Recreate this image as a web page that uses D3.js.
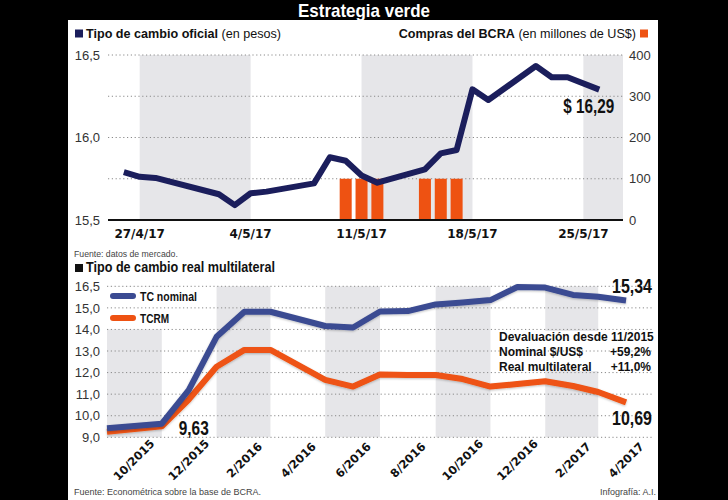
<!DOCTYPE html>
<html><head><meta charset="utf-8">
<script src="https://cdn.jsdelivr.net/npm/d3@7"></script>
<style>body{margin:0;background:#000}svg{display:block}</style>
</head><body><svg id="c" width="728" height="500"></svg>
<script>
// ---------- DATA ----------
const fechasOficial = ["2017-04-26","2017-04-27","2017-04-28","2017-05-02","2017-05-03","2017-05-04","2017-05-05","2017-05-08","2017-05-09","2017-05-10","2017-05-11","2017-05-12","2017-05-15","2017-05-16","2017-05-17","2017-05-18","2017-05-19","2017-05-22","2017-05-23","2017-05-24","2017-05-26"];
const tipoCambioOficial = [15.79,15.762,15.755,15.656,15.59,15.662,15.672,15.722,15.88,15.859,15.77,15.726,15.807,15.904,15.924,16.292,16.227,16.433,16.365,16.365,16.29];
const fechasCompras = ["2017-05-10","2017-05-11","2017-05-12","2017-05-15","2017-05-16","2017-05-17"];
const comprasBCRA = [100,100,100,100,100,100];
const semanasTicks = ["2017-04-27","2017-05-04","2017-05-11","2017-05-18","2017-05-25"];
const semanasLabels = ["27/4/17","4/5/17","11/5/17","18/5/17","25/5/17"];
const ejeIzqTicks = [15.5,16,16.5];
const ejeDerTicks = [0,100,200,300,400];
const ultimoOficialLabel = "$ 16,29";

const meses = ["2015-09","2015-11","2015-12","2016-01","2016-02","2016-03","2016-05","2016-06","2016-07","2016-08","2016-09","2016-10","2016-11","2016-12","2017-01","2017-02","2017-03","2017-04"];
const tcNominal = [9.42,9.63,11.19,13.66,14.82,14.82,14.16,14.09,14.83,14.85,15.16,15.25,15.36,15.97,15.94,15.6,15.52,15.34];
const tcrm = [9.26,9.51,10.75,12.27,13.05,13.05,11.66,11.35,11.91,11.89,11.89,11.7,11.35,11.47,11.6,11.38,11.1,10.62];
const mesesTicks = ["2015-10","2015-12","2016-02","2016-04","2016-06","2016-08","2016-10","2016-12","2017-02","2017-04"];
const mesesLabels = ["10/2015","12/2015","2/2016","4/2016","6/2016","8/2016","10/2016","12/2016","2/2017","4/2017"];
const ejeRealTicks = [9,10,11,12,13,14,15,16];
const ejeRealLabels = ["9,0","10,0","11,0","12,0","13,0","14,0","15,0","16,5"];
const seriesNombres = ["TC nominal","TCRM"];
const valorLabels = ["9,63","15,34","10,69"];
const devaluacionTitulo = "Devaluación desde 11/2015";
const devaluacionFilas = ["Nominal $/US$","Real multilateral"];
const devaluacionValores = ["+59,2%","+11,0%"];

// ---------- STYLE ----------
const NAVY = "#1b1e5c", BLUE = "#3b4b92", ORANGE = "#ee5212", BAND = "#e6e6e9", GRID = "#8a8a8a";
const FONT = "'Liberation Sans', Arial, sans-serif";
const NARROW = "'Liberation Sans Narrow', 'Liberation Sans', Arial, sans-serif";
const WIDE = "'DejaVu Sans', sans-serif";

const svg = d3.select("#c");
svg.append("rect").attr("width",728).attr("height",500).attr("fill","#000");
svg.append("rect").attr("x",68).attr("y",20).attr("width",590).attr("height",480).attr("fill","#fff");

const defs = svg.append("defs");
const f = defs.append("filter").attr("id","sh").attr("x","-5%").attr("y","-20%").attr("width","110%").attr("height","140%");
f.append("feDropShadow").attr("dx",0).attr("dy",1).attr("stdDeviation",1.2).attr("flood-color","#000").attr("flood-opacity",0.25);

function cond(sel, w){ return sel.attr("textLength", w).attr("lengthAdjust","spacingAndGlyphs"); }

// Title
cond(svg.append("text").attr("x",364).attr("y",16.5).attr("text-anchor","middle")
  .attr("fill","#fff").attr("font-family",NARROW).attr("font-weight","bold").attr("font-size",19)
  .text("Estrategia verde"), 132);

// ---------- TOP CHART ----------
const parseD = d3.timeParse("%Y-%m-%d");
const x1 = d3.scaleTime().domain([new Date(2017,3,25), new Date(2017,4,27,12)]).range([108,623]);
const yL = d3.scaleLinear().domain([15.5,16.5]).range([220,55]);
const yR = d3.scaleLinear().domain([0,400]).range([220,55]);

// header
svg.append("rect").attr("x",75).attr("y",29.5).attr("width",8).attr("height",8).attr("fill",NAVY);
const hl = svg.append("text").attr("x",86).attr("y",38).attr("font-family",FONT).attr("font-size",12.6).attr("fill","#111");
hl.append("tspan").attr("font-weight","bold").text("Tipo de cambio oficial");
hl.append("tspan").text(" (en pesos)");
const hr = svg.append("text").attr("x",636).attr("y",38).attr("text-anchor","end").attr("font-family",FONT).attr("font-size",12.6).attr("fill","#111");
hr.append("tspan").attr("font-weight","bold").text("Compras del BCRA");
hr.append("tspan").text(" (en millones de US$)");
svg.append("rect").attr("x",640).attr("y",29.5).attr("width",8).attr("height",8).attr("fill",ORANGE);

// bands
const semDates = semanasTicks.map(parseD);
semDates.forEach((d,i)=>{
  if(i%2===0){
    const xa = x1(d), xb = i+1<semDates.length ? x1(semDates[i+1]) : x1.range()[1];
    svg.append("rect").attr("x",xa).attr("y",yR(400)).attr("width",xb-xa).attr("height",yR(0)-yR(400)).attr("fill",BAND);
  }
});
// gridlines
svg.append("g").selectAll("line").data(ejeDerTicks.filter(v=>v>0)).join("line")
  .attr("x1",x1.range()[0]).attr("x2",x1.range()[1]).attr("y1",d=>yR(d)).attr("y2",d=>yR(d))
  .attr("stroke",GRID).attr("stroke-width",1).attr("stroke-dasharray","1.2,2.6");
// bars
const bw = 12;
svg.append("g").selectAll("rect").data(fechasCompras.map((d,i)=>({d:parseD(d),v:comprasBCRA[i]}))).join("rect")
  .attr("x",d=>x1(d.d)-bw/2).attr("width",bw).attr("y",d=>yR(d.v)).attr("height",d=>yR(0)-yR(d.v)).attr("fill",ORANGE);
// axis line
svg.append("line").attr("x1",x1.range()[0]).attr("x2",x1.range()[1]).attr("y1",220).attr("y2",220).attr("stroke","#111").attr("stroke-width",2);
// line
const offData = fechasOficial.map((d,i)=>({d:parseD(d),v:tipoCambioOficial[i]}));
svg.append("path").datum(offData).attr("fill","none").attr("stroke",NAVY).attr("stroke-width",6)
  .attr("stroke-linejoin","round").attr("stroke-linecap","butt")
  .attr("d",d3.line().x(d=>x1(d.d)).y(d=>yL(d.v)));
// left axis
const axL = svg.append("g").attr("transform","translate(100,0)")
  .call(d3.axisLeft(yL).tickValues(ejeIzqTicks).tickSize(0).tickPadding(0).tickFormat(d=>d3.format(".1f")(d).replace(".",",")));
axL.select(".domain").remove();
axL.selectAll("text").attr("font-family",FONT).attr("font-size",13).attr("fill","#333");
// right axis
const axR = svg.append("g").attr("transform","translate(629,0)")
  .call(d3.axisRight(yR).tickValues(ejeDerTicks).tickSize(0).tickPadding(0));
axR.select(".domain").remove();
axR.selectAll("text").attr("font-family",FONT).attr("font-size",13).attr("fill","#333");
// x labels
const axX1 = svg.append("g").attr("transform","translate(0,238)");
axX1.selectAll("text").data(semDates).join("text")
  .attr("x",d=>x1(d)).attr("text-anchor","middle").attr("font-family",WIDE).attr("font-weight","bold")
  .attr("font-size",12).attr("fill","#111").text((d,i)=>semanasLabels[i]);
// last value label
const lastOff = offData[offData.length-1];
cond(svg.append("text").attr("x",x1(lastOff.d)+15).attr("y",yL(lastOff.v)+23).attr("text-anchor","end")
  .attr("font-family",NARROW).attr("font-weight","bold").attr("font-size",20).attr("fill","#111")
  .text(ultimoOficialLabel), 51);

svg.append("text").attr("x",74).attr("y",257).attr("font-family",FONT).attr("font-size",8.7).attr("fill","#444").text("Fuente: datos de mercado.");

// ---------- BOTTOM CHART ----------
const parseM = d3.timeParse("%Y-%m");
const x2 = d3.scaleTime().domain([new Date(2015,8,1), new Date(2017,4,1)]).range([107,653]);
const y2 = d3.scaleLinear().domain([9,16]).range([437.3,286.3]);

svg.append("rect").attr("x",75).attr("y",264).attr("width",8).attr("height",8).attr("fill","#111");
cond(svg.append("text").attr("x",86).attr("y",272).attr("font-family",FONT).attr("font-weight","bold").attr("font-size",14).attr("fill","#111")
  .text("Tipo de cambio real multilateral"), 189);

const mtDates = mesesTicks.map(parseM);
mtDates.forEach((d,i)=>{
  if(i%2===0){
    const xa = x2(d3.timeMonth.offset(d,-1)), xb = x2(d3.timeMonth.offset(d,1));
    svg.append("rect").attr("x",xa).attr("y",y2(16)).attr("width",xb-xa).attr("height",y2(9)-y2(16)).attr("fill",BAND);
  }
});
// white boxes (legend, devaluation note)
svg.append("rect").attr("x",107).attr("y",y2(16)).attr("width",100).attr("height",y2(14)-y2(16)).attr("fill","#fff");
svg.append("rect").attr("x",497).attr("y",331).attr("width",158).attr("height",40).attr("fill","#fff");
// gridlines
svg.append("g").selectAll("line").data(ejeRealTicks).join("line")
  .attr("x1",x2.range()[0]).attr("x2",x2.range()[1]).attr("y1",d=>y2(d)).attr("y2",d=>y2(d))
  .attr("stroke",GRID).attr("stroke-width",1).attr("stroke-dasharray","1.2,2.6");
// y labels
const axY2 = svg.append("g").attr("transform","translate(100,0)")
  .call(d3.axisLeft(y2).tickValues(ejeRealTicks).tickSize(0).tickPadding(0).tickFormat((d,i)=>ejeRealLabels[i]));
axY2.select(".domain").remove();
axY2.selectAll("text").attr("font-family",FONT).attr("font-size",13).attr("fill","#333");
// lines
const mDates = meses.map(parseM);
const lineGen = d3.line().x(d=>x2(d.d)).y(d=>y2(d.v));
[[tcrm,ORANGE],[tcNominal,BLUE]].forEach(([arr,col])=>{
  svg.append("path").datum(arr.map((v,i)=>({d:mDates[i],v}))).attr("fill","none").attr("stroke",col)
    .attr("stroke-width",6).attr("stroke-linejoin","round").attr("filter","url(#sh)").attr("d",lineGen);
});
// x labels rotated
svg.append("g").selectAll("text").data(mtDates).join("text")
  .attr("transform",d=>`translate(${x2(d)},460) rotate(-45)`).attr("text-anchor","middle").attr("dy","0.35em")
  .attr("font-family",WIDE).attr("font-weight","bold").attr("font-size",11.5).attr("fill","#111")
  .text((d,i)=>mesesLabels[i]);
// legend
[[BLUE,296,300.5,57],[ORANGE,318,322.5,29]].forEach(([col,yy,ty,w],i)=>{
  svg.append("line").attr("x1",113).attr("x2",133).attr("y1",yy).attr("y2",yy).attr("stroke",col)
    .attr("stroke-width",6).attr("stroke-linecap","round");
  cond(svg.append("text").attr("x",140).attr("y",ty).attr("font-family",FONT).attr("font-weight","bold")
    .attr("font-size",13).attr("fill","#111").text(seriesNombres[i]), w);
});
// value labels
const nIdx = meses.indexOf("2015-11");
cond(svg.append("text").attr("x",x2(mDates[nIdx])+17).attr("y",435).attr("font-family",NARROW).attr("font-weight","bold")
  .attr("font-size",20).attr("fill","#111").text(valorLabels[0]),30);
cond(svg.append("text").attr("x",652).attr("y",293).attr("text-anchor","end").attr("font-family",NARROW).attr("font-weight","bold")
  .attr("font-size",21).attr("fill","#111").text(valorLabels[1]),40);
cond(svg.append("text").attr("x",652).attr("y",425).attr("text-anchor","end").attr("font-family",NARROW).attr("font-weight","bold")
  .attr("font-size",21).attr("fill","#111").text(valorLabels[2]),40);
// devaluation note
svg.append("text").attr("x",499).attr("y",341).attr("font-family",FONT).attr("font-weight","bold").attr("font-size",12).attr("fill","#111").text(devaluacionTitulo);
devaluacionFilas.forEach((t,i)=>{
  svg.append("text").attr("x",499).attr("y",356+i*14.5).attr("font-family",FONT).attr("font-weight","bold").attr("font-size",12).attr("fill","#111").text(t);
  svg.append("text").attr("x",651).attr("y",356+i*14.5).attr("text-anchor","end").attr("font-family",FONT).attr("font-weight","bold").attr("font-size",12).attr("fill","#111").text(devaluacionValores[i]);
});
// footer
svg.append("text").attr("x",74).attr("y",495).attr("font-family",FONT).attr("font-size",9).attr("fill","#444").text("Fuente: Econométrica sobre la base de BCRA.");
svg.append("text").attr("x",656).attr("y",495).attr("text-anchor","end").attr("font-family",FONT).attr("font-size",9).attr("fill","#444").text("Infografía: A.I.");
</script></body></html>
